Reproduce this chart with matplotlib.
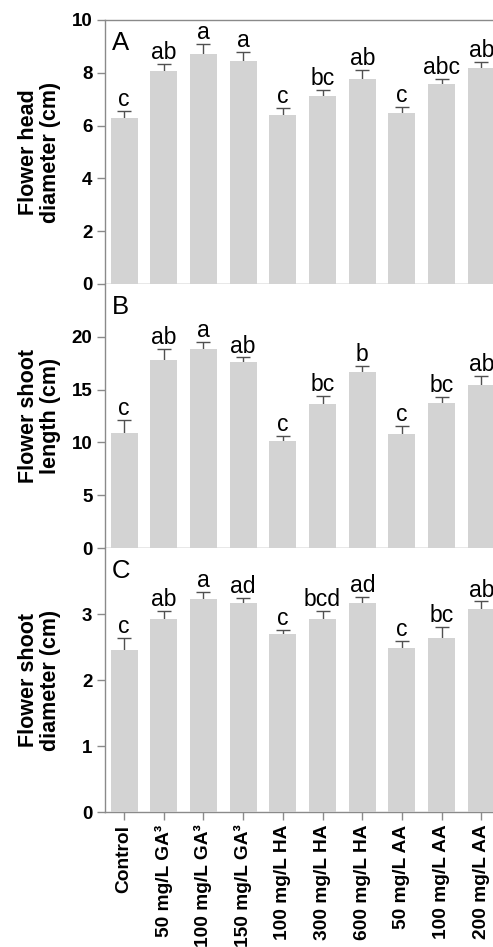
import numpy as np
import matplotlib.pyplot as plt

plt.rcParams["font.family"] = ["Liberation Sans", "DejaVu Sans"]

treatments = ["Control", "50 mg/L GA³", "100 mg/L GA³", "150 mg/L GA³",
              "100 mg/L HA", "300 mg/L HA", "600 mg/L HA",
              "50 mg/L AA", "100 mg/L AA", "200 mg/L AA"]

head_diam = [6.30, 8.07, 8.73, 8.45, 6.39, 7.12, 7.77, 6.47, 7.57, 8.20]
head_diam_err = [0.25, 0.27, 0.35, 0.33, 0.29, 0.23, 0.33, 0.24, 0.20, 0.20]
head_diam_sig = ["c", "ab", "a", "a", "c", "bc", "ab", "c", "abc", "ab"]

shoot_len = [10.9, 17.82, 18.8, 17.6, 10.17, 13.62, 16.62, 10.77, 13.71, 15.39]
shoot_len_err = [1.2, 1.04, 0.73, 0.44, 0.45, 0.82, 0.66, 0.82, 0.57, 0.92]
shoot_len_sig = ["c", "ab", "a", "ab", "c", "bc", "b", "c", "bc", "ab"]

shoot_diam = [2.45, 2.93, 3.23, 3.16, 2.69, 2.93, 3.16, 2.48, 2.64, 3.07]
shoot_diam_err = [0.19, 0.11, 0.10, 0.08, 0.07, 0.11, 0.10, 0.11, 0.16, 0.12]
shoot_diam_sig = ["c", "ab", "a", "ad", "c", "bcd", "ad", "c", "bc", "ab"]

panels = [
    ("A", "Flower head\ndiameter (cm)", head_diam, head_diam_err, head_diam_sig, 10, [0, 2, 4, 6, 8, 10]),
    ("B", "Flower shoot\nlength (cm)", shoot_len, shoot_len_err, shoot_len_sig, 25, [0, 5, 10, 15, 20]),
    ("C", "Flower shoot\ndiameter (cm)", shoot_diam, shoot_diam_err, shoot_diam_sig, 4, [0, 1, 2, 3]),
]

W, H = 493, 947
fig = plt.figure(figsize=(W / 100, H / 100), dpi=100)

left, right = 105 / W, 502 / W
top_px = 20
panel_h = 264
x = np.arange(len(treatments))
spine_col = "#8a8a8a"

for i, (tag, ylab, vals, errs, sig, ymax, yticks) in enumerate(panels):
    y0 = top_px + i * panel_h
    ax = fig.add_axes([left, 1 - (y0 + panel_h) / H, right - left, panel_h / H])
    # symmetric error bars drawn behind the bars, so only the upper half shows
    ax.errorbar(x, vals, yerr=errs, fmt="none", ecolor="#505050",
                elinewidth=1, capsize=5, capthick=1, zorder=2)
    ax.bar(x, vals, width=0.68, color="#d3d3d3", zorder=3)
    for xi, v, e, s in zip(x, vals, errs, sig):
        ax.annotate(s, (xi, v + e), xytext=(0, 3.5), textcoords="offset points",
                    ha="center", va="baseline", fontsize=16.5)
    ax.text(0.018, 0.958, tag, transform=ax.transAxes, ha="left", va="top", fontsize=18.5)

    ax.set_xlim(-0.48, 9.52)
    ax.set_ylim(0, ymax)
    ax.set_yticks(yticks)
    ax.set_yticklabels([str(t) for t in yticks], fontweight="bold", fontsize=13.5)
    ax.set_ylabel(ylab, fontweight="bold", fontsize=15.5, linespacing=1.1)
    ax.yaxis.set_label_coords(-0.11, 0.5)
    ax.tick_params(axis="y", direction="out", length=6, width=1, color=spine_col, pad=3)

    for side in ["left", "bottom", "top"]:
        ax.spines[side].set_color(spine_col)
        ax.spines[side].set_linewidth(1)
    ax.spines["right"].set_visible(False)
    if i > 0:
        ax.spines["top"].set_visible(False)

    if i == 2:
        ax.set_xticks(x)
        ax.set_xticklabels(treatments, rotation=90, fontweight="bold", fontsize=13.8,
                           ha="center", va="top")
        ax.tick_params(axis="x", direction="out", length=6, width=1, color=spine_col, pad=3)
    else:
        ax.set_xticks([])

fig.savefig("out.png", dpi=100)
